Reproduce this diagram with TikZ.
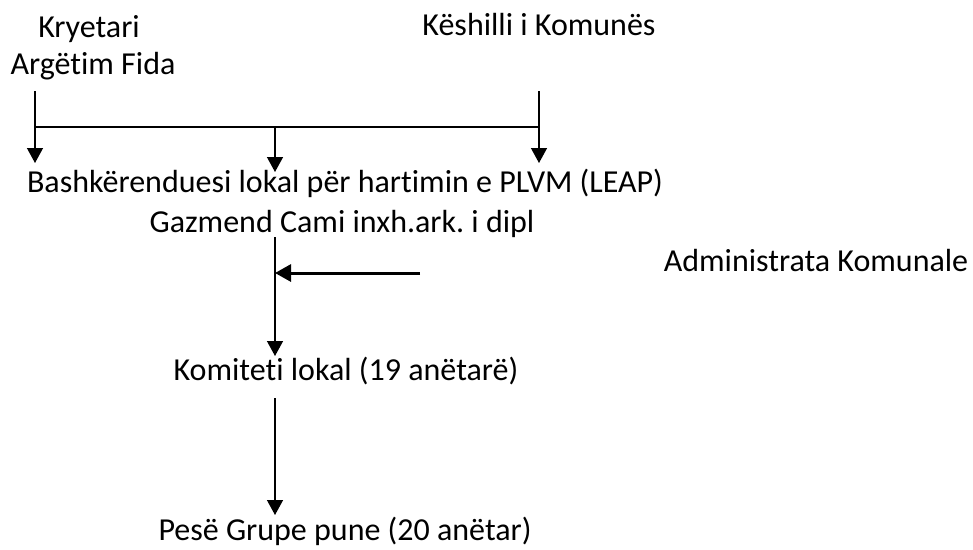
\documentclass[tikz,border=0pt]{standalone}
\usepackage{fontspec}
\setmainfont[RawFeature={-liga}]{Carlito}
\usetikzlibrary{arrows.meta}
\begin{document}
\frenchspacing
\begin{tikzpicture}[x=1pt,y=-1pt,
  lbl/.style={anchor=base,inner sep=0pt,font=\fontsize{32}{38}\selectfont},
  conn/.style={line width=1.4pt},
  arr/.style={conn,-{Triangle[length=15pt,width=16pt]}},
  thickarr/.style={line width=3pt,-{Triangle[length=16pt,width=17pt]}}]
\useasboundingbox (0,0) rectangle (973,549);

\node[lbl] (kry) at (89,37) {Kryetari};
\node[lbl] (arg) at (93,74) {Argëtim Fida};
\node[lbl] (kesh) at (539,35) {Këshilli i Komunës};
\node[lbl] (bash) at (345,192) {Bashkërenduesi lokal për hartimin e PLVM (LEAP)};
\node[lbl] (gaz) at (342,232) {Gazmend Cami inxh.ark. i dipl};
\node[lbl] (adm) at (816,271) {Administrata Komunale};
\node[lbl] (kom) at (346,380) {Komiteti lokal (19 anëtarë)};
\node[lbl] (pese) at (345,540) {Pesë Grupe pune (20 anëtar)};

\coordinate (lt) at (35,91);
\coordinate (lj) at (35,127);
\coordinate (lb) at (35,163);
\coordinate (rt) at (539,91);
\coordinate (rj) at (539,127);
\coordinate (rb) at (539,163);
\coordinate (mj) at (275,127);
\coordinate (mb) at (275,172);
\coordinate (vt) at (275,237);
\coordinate (vm) at (275,273);
\coordinate (vb) at (275,356);
\coordinate (ha) at (420,273);
\coordinate (kt) at (275,398);
\coordinate (kb) at (275,515);

\draw[conn] (lj) -- (rj);
\draw[arr] (lt) -- (lb);
\draw[arr] (rt) -- (rb);
\draw[arr] (mj) -- (mb);
\draw[arr] (vt) -- (vb);
\draw[thickarr] (ha) -- (vm);
\draw[arr] (kt) -- (kb);
\end{tikzpicture}
\end{document}
